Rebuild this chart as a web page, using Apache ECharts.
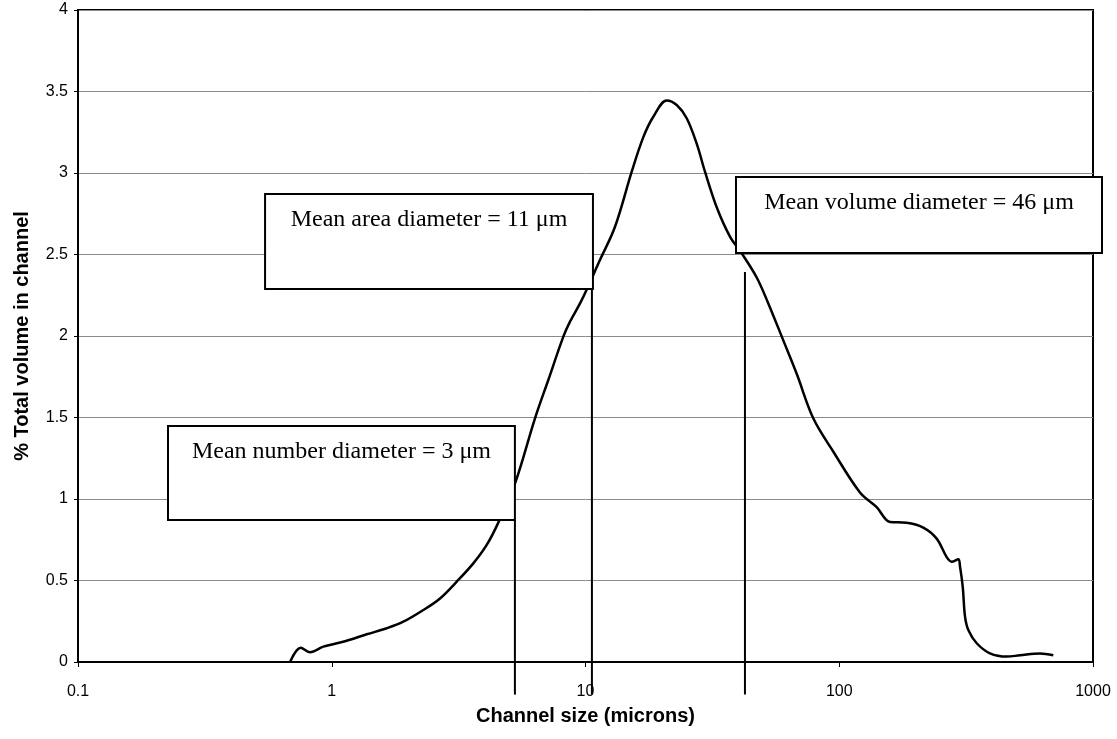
<!DOCTYPE html>
<html>
<head>
<meta charset="utf-8">
<script src="https://cdn.jsdelivr.net/npm/echarts@6/dist/echarts.min.js"></script>
<style>
  html, body { margin: 0; padding: 0; background: #fff; }
  #chart { width: 1117px; height: 739px; }
</style>
</head>
<body>
<div id="chart"></div>
<script>
// Particle size distribution: % of total volume per size channel (log size scale)
const channelSize = [0.685, 0.754, 0.821, 0.926, 1.145, 1.373, 1.647, 1.914, 2.296, 2.671,
  3.108, 3.613, 4.08, 4.533, 5.276, 6.324, 7.135, 8.178, 8.688, 9.66,
  11.4, 13.07, 15.21, 16.9, 18.5, 20.9, 22.88, 25.05, 27.43, 29.57,
  32.89, 37.1, 41.27, 47.28, 52.53, 60.18, 67.97, 79.0, 94.8, 120.7,
  140.4, 158.5, 184.4, 214.4, 242.1, 265.1, 277.4, 294.6, 299.2, 306.6,
  313.1, 322.6, 348.1, 392.7, 457.0, 515.6, 618.2, 697.5];
const volumePct = [0, 0.088, 0.06, 0.094, 0.13, 0.17, 0.207, 0.247, 0.319, 0.39,
  0.493, 0.605, 0.718, 0.855, 1.096, 1.495, 1.73, 1.996, 2.088, 2.22,
  2.466, 2.67, 3.008, 3.22, 3.345, 3.445, 3.417, 3.336, 3.18, 3.008,
  2.79, 2.61, 2.507, 2.359, 2.2, 1.973, 1.768, 1.495, 1.29, 1.04,
  0.95, 0.859, 0.855, 0.825, 0.757, 0.643, 0.615, 0.63, 0.585, 0.462,
  0.278, 0.196, 0.115, 0.053, 0.033, 0.041, 0.052, 0.041];

const xTickLabels = ['0.1', '1', '10', '100', '1000'];
const yTickLabels = ['0', '0.5', '1', '1.5', '2', '2.5', '3', '3.5', '4'];

// Mean diameter annotations
const meanLabels = ['Mean number diameter = 3 μm', 'Mean area diameter = 11 μm', 'Mean volume diameter = 46 μm'];
const meanLineSize = [5.27, 10.6, 42.5];
const meanLineTop = [0.871, 2.288, 2.393];
const meanLineBottom = -0.2;
// Label box extents, in axis units
const boxLeft = [0.2263, 0.546, 39.18];
const boxRight = [5.27, 10.7, 1085];
const boxTop = [1.448, 2.871, 2.975];
const boxBottom = [0.871, 2.288, 2.509];

const chart = echarts.init(document.getElementById('chart'), null, { renderer: 'canvas' });

const sansFont = 'Liberation Sans, Arial, sans-serif';

chart.setOption({
  animation: false,
  backgroundColor: '#fff',
  grid: {
    left: 78, right: 24, top: 10, bottom: 77,
    show: true, borderColor: '#000', borderWidth: 2, backgroundColor: 'transparent',
    containLabel: false
  },
  xAxis: {
    type: 'log', logBase: 10, min: 0.1, max: 1000,
    name: 'Channel size (microns)', nameLocation: 'middle', nameGap: 44,
    nameTextStyle: { fontFamily: sansFont, fontSize: 20, fontWeight: 'bold', color: '#000' },
    axisLine: { show: true, lineStyle: { color: '#000', width: 2 } },
    axisTick: { show: true, length: 5, lineStyle: { color: '#000', width: 1 } },
    minorTick: { show: false },
    axisLabel: {
      margin: 22, fontFamily: sansFont, fontSize: 16, color: '#000',
      formatter: v => xTickLabels[Math.round(Math.log10(v)) + 1]
    },
    splitLine: { show: false }
  },
  yAxis: {
    type: 'value', min: 0, max: 4, interval: 0.5,
    name: '% Total volume in channel', nameLocation: 'middle', nameGap: 46,
    nameTextStyle: { fontFamily: sansFont, fontSize: 20, fontWeight: 'bold', color: '#000' },
    axisLine: { show: true, lineStyle: { color: '#000', width: 2 } },
    axisTick: { show: true, length: 4, lineStyle: { color: '#000', width: 1 } },
    axisLabel: {
      margin: 10, fontFamily: sansFont, fontSize: 16, color: '#000',
      formatter: v => yTickLabels[Math.round(v / 0.5)]
    },
    splitLine: { show: true, lineStyle: { color: '#8a8a8a', width: 1 } }
  },
  series: [
    {
      type: 'line',
      data: channelSize.map((s, i) => [s, volumePct[i]]),
      showSymbol: false,
      smooth: 0.35,
      lineStyle: { color: '#000', width: 2.5 },
      z: 2
    },
    {
      // vertical marker lines at the mean diameters, running below the axis
      type: 'custom',
      clip: false,
      z: 3,
      data: meanLineSize.map((s, i) => [s, meanLineTop[i]]),
      renderItem: (params, api) => {
        const i = params.dataIndex;
        const top = api.coord([meanLineSize[i], meanLineTop[i]]);
        const bot = api.coord([meanLineSize[i], meanLineBottom]);
        return {
          type: 'line',
          shape: { x1: top[0], y1: top[1], x2: bot[0], y2: bot[1] },
          style: { stroke: '#000', lineWidth: 2 }
        };
      }
    },
    {
      // white label boxes for the mean diameters
      type: 'custom',
      clip: false,
      z: 4,
      data: boxLeft.map((l, i) => [l, boxTop[i]]),
      renderItem: (params, api) => {
        const i = params.dataIndex;
        const p1 = api.coord([boxLeft[i], boxTop[i]]);
        const p2 = api.coord([boxRight[i], boxBottom[i]]);
        return {
          type: 'group',
          children: [
            {
              type: 'rect',
              shape: { x: p1[0], y: p1[1], width: p2[0] - p1[0], height: p2[1] - p1[1] },
              style: { fill: '#fff', stroke: '#000', lineWidth: 2 }
            },
            {
              type: 'text',
              style: {
                text: meanLabels[i],
                x: (p1[0] + p2[0]) / 2,
                y: p1[1] + 26,
                align: 'center',
                verticalAlign: 'middle',
                fontFamily: 'Liberation Serif, Times New Roman, serif',
                fontSize: 24,
                fill: '#000'
              }
            }
          ]
        };
      }
    }
  ]
});
</script>
</body>
</html>
